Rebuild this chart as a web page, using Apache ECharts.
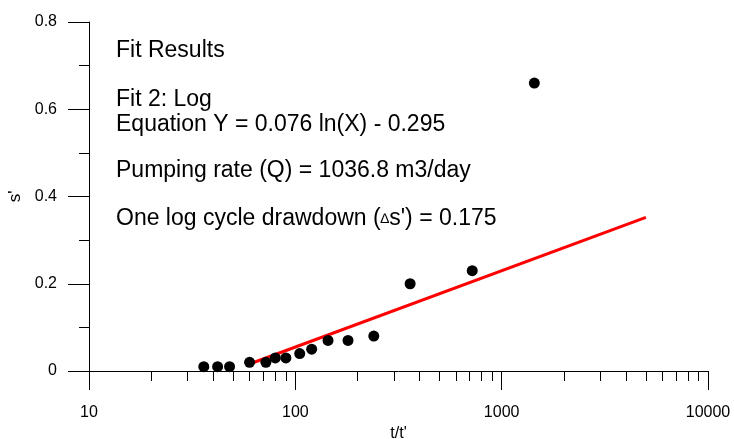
<!DOCTYPE html>
<html>
<head>
<meta charset="utf-8">
<title>Fit Results</title>
<script src="https://cdn.jsdelivr.net/npm/echarts@6/dist/echarts.min.js"></script>
<style>
  html, body { margin: 0; padding: 0; background: #fff; }
  #chart { width: 734px; height: 439px; }
</style>
</head>
<body>
<div id="chart"></div>
<script>
// observed points
const tRatio = [36, 42, 48, 60, 72, 80, 90, 105, 120, 144, 180, 240, 360, 720, 1440];
const sPrime = [0.01, 0.01, 0.01, 0.02, 0.02, 0.03, 0.03, 0.04, 0.05, 0.07, 0.07, 0.08, 0.20, 0.23, 0.66];
// fitted log line end points
const fitT = [60, 5000];
const fitS = [0.016, 0.352];
// x axis ticks
const xMajor = [10, 100, 1000, 10000];
const xMinor = [20, 30, 40, 50, 60, 70, 80, 90, 200, 300, 400, 500, 600, 700, 800, 900, 2000, 3000, 4000, 5000, 6000, 7000, 8000, 9000];
// annotation lines
const notes = [
  'Fit Results',
  'Fit 2: Log',
  'Equation Y = 0.076 ln(X) - 0.295',
  'Pumping rate (Q) = 1036.8 m3/day',
  'One log cycle drawdown ({d|∆}s\') = 0.175'
];

const font = 'Arial, "Liberation Sans", sans-serif';
const gridBox = { left: 89, top: 22, right: 26, bottom: 68, containLabel: false, outerBoundsMode: 'none' };
const noteY = [51, 100, 125, 171, 219];

var myChart = echarts.init(document.getElementById('chart'), null, { renderer: 'canvas' });
var option;

option = {
  animation: false,
  backgroundColor: '#fff',
  textStyle: { fontFamily: font },
  grid: [
    Object.assign({}, gridBox),
    Object.assign({}, gridBox)
  ],
  xAxis: [
    {
      type: 'log',
      logBase: 10,
      min: 10,
      max: 10000,
      gridIndex: 0,
      name: "t/t'",
      nameLocation: 'middle',
      nameGap: 54,
      nameTextStyle: { color: '#000', fontSize: 16, fontFamily: font },
      axisLine: { show: true, onZero: false, lineStyle: { color: '#000', width: 1 } },
      axisTick: { show: true, length: 19, customValues: xMajor, lineStyle: { color: '#000' } },
      axisLabel: {
        show: true,
        margin: 34,
        customValues: xMajor,
        color: '#000',
        fontSize: 16,
        fontFamily: font,
        formatter: function (v) { return String(Math.round(v)); }
      },
      splitLine: { show: false },
      minorTick: { show: false }
    },
    {
      type: 'log',
      logBase: 10,
      min: 10,
      max: 10000,
      gridIndex: 1,
      axisLine: { show: false },
      axisTick: { show: true, length: 10, customValues: xMinor, lineStyle: { color: '#000' } },
      axisLabel: { show: false },
      splitLine: { show: false }
    }
  ],
  yAxis: [
    {
      type: 'value',
      min: 0,
      max: 0.8,
      interval: 0.2,
      gridIndex: 0,
      name: "s'",
      nameLocation: 'middle',
      nameGap: 58,
      nameRotate: 90,
      nameTextStyle: { color: '#000', fontSize: 17, fontFamily: font },
      axisLine: { show: true, onZero: false, lineStyle: { color: '#000', width: 1 } },
      axisTick: { show: true, length: 21, lineStyle: { color: '#000' } },
      minorTick: { show: true, splitNumber: 2, length: 10, lineStyle: { color: '#000' } },
      axisLabel: { margin: 32, color: '#000', fontSize: 16, fontFamily: font },
      splitLine: { show: false },
      minorSplitLine: { show: false }
    },
    {
      type: 'value',
      min: 0,
      max: 0.8,
      gridIndex: 1,
      show: false
    }
  ],
  series: [
    {
      name: 'fit',
      type: 'line',
      xAxisIndex: 0,
      yAxisIndex: 0,
      data: fitT.map((t, i) => [t, fitS[i]]),
      showSymbol: false,
      lineStyle: { color: '#ff0000', width: 3 },
      z: 2
    },
    {
      name: 'data',
      type: 'scatter',
      xAxisIndex: 0,
      yAxisIndex: 0,
      data: tRatio.map((t, i) => [t, sPrime[i]]),
      symbol: 'circle',
      symbolSize: 11,
      itemStyle: { color: '#000', opacity: 1 },
      z: 3
    }
  ],
  graphic: notes.map((txt, i) => ({
    type: 'text',
    x: 116,
    y: noteY[i],
    style: {
      text: txt,
      fill: '#000',
      font: '23px ' + font,
      verticalAlign: 'middle',
      rich: { d: { fontSize: 14, fontFamily: font, fill: '#000' } }
    }
  }))
};

option && myChart.setOption(option);
</script>
</body>
</html>
